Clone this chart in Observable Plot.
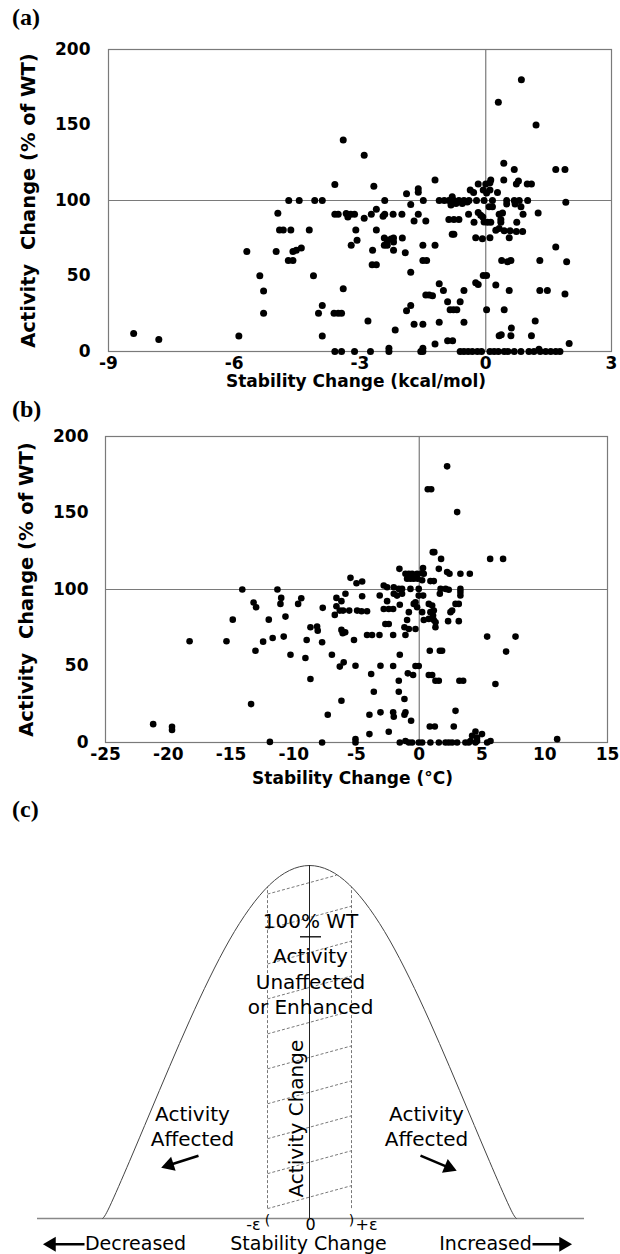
<!DOCTYPE html>
<html><head><meta charset="utf-8">
<script src="https://cdn.jsdelivr.net/npm/d3@7"></script>
<script src="https://cdn.jsdelivr.net/npm/@observablehq/plot@0.6"></script>
<style>
body{margin:0;background:#fff;}
#page{position:relative;width:620px;height:1254px;overflow:hidden;background:#fff;}
.panel{position:absolute;left:0;}
.plabel{position:absolute;left:12px;font-family:"Liberation Serif","Times New Roman",serif;font-weight:bold;font-size:24px;line-height:1;color:#000;}
</style></head><body>
<div id="page">
  <div id="pa" class="panel" style="top:0px"></div>
  <div id="pb" class="panel" style="top:395px"></div>
  <div id="pc" class="panel" style="top:795px"></div>
  <div class="plabel" style="top:5px">(a)</div>
  <div class="plabel" style="top:397px">(b)</div>
  <div class="plabel" style="top:797px">(c)</div>
</div>
<script>
// ---------- Panel (a): stability change (kcal/mol) vs activity change ----------
const aStab = [
 -3.4,-2.9,0.85,0.3,1.2,-8.4,-7.8,
 -3.6,-2.67,-4.7,-4.45,-4.08,-3.9,-2.41,-1.89,-1.61,-1.61,-1.49,-1.79,-4.96,-3.6,-3.52,-3.33,-3.29,-3.22,-3.13,-2.9,-2.73,-2.61,-2.45,-2.41,-2.21,-2.0,-1.61,-1.71,-1.43,
 -4.92,-4.83,-4.65,-4.21,-3.1,-2.61,-5.7,-5.0,-4.6,-4.52,-4.4,-4.71,-4.6,-3.07,-3.21,-2.42,-2.35,-2.26,-2.2,-2.2,-2.42,-2.35,-2.2,-1.99,-2.7,-1.92,-1.5,-1.5,-1.41,-2.71,-2.61,-1.79,-5.39,-4.11,-5.3,-3.4,-3.9,-3.99,-5.3,-3.62,-3.52,-3.44,-1.43,-1.35,-1.79,-1.89,-2.81,-1.71,-1.5,-2.16,-5.89,-3.9,-3.6,-3.44,-3.13,-2.75,-2.31,-2.31,-1.55,-1.5,-1.5,
 0.43,0.68,1.67,1.89,-1.21,0.12,0.43,0.78,0.73,-0.18,0,0.1,0.99,1.09,-0.37,-0.29,-0.06,0.02,0.1,0.28,
 -1.11,-0.99,-0.88,-0.8,-0.76,-0.64,-0.52,-0.4,-0.22,-0.04,0.16,0.5,0.68,0.8,1.0,
 1.91,-0.83,-0.71,-0.56,-0.44,0.08,0.16,0.5,0.7,0.84,1.25,-0.41,-0.18,-0.12,-0.07,0.32,0.4,0.89,-0.88,-0.76,-0.64,-0.28,-0.04,0.04,0.12,0.36,0.36,0.74,0.24,0.32,0.44,0.58,0.73,0.88,-0.8,-0.76,-0.24,-0.08,0.1,0.56,-1.21,1.67,0.38,0.52,0.6,1.29,1.93,-0.06,0.02,-0.24,-0.18,-1.11,0.24,-1.27,-1.01,-0.52,0.56,1.29,1.47,1.89,-0.91,-0.61,-0.85,-0.77,-0.69,0.02,0.44,-1.11,-0.52,1.18,0.61,0.32,0.37,0.6,1.09,-0.91,-0.79,-1.21,1.99,
 -0.61,-0.52,-0.42,-0.32,-0.2,-0.1,0.1,0.2,0.3,0.44,0.53,0.68,0.84,1.03,1.15,1.27,1.3,1.43,1.55,1.67,1.77
];
const aAct = [
 140,130,180,165,150,12,8,
 110.6,109.5,100,100,100,100,100,104.4,107.8,105.5,100,97.3,91.6,90.9,90.9,91.4,89.1,90.9,90.9,88.2,90.9,94.2,89.6,90.9,90.9,90.9,90.9,86.5,86.5,
 80.5,80.5,80.5,80.5,80.5,80.5,66.3,66.3,66.3,67,68.5,60.3,60.3,73.6,70.3,75.2,73.6,74.5,75.2,72.5,70.3,70.3,67,75.2,67,65.4,70.3,60.3,60.3,57.4,57.4,52.5,50.1,50.1,40.1,41.5,30.4,25.3,25.3,25.3,25.3,25.3,37.5,37.5,30.4,27,20.2,18,18,14.2,10.2,10.2,0,0,0,0,0,2.2,0,2.2,0,
 124.6,120.6,120.6,120.6,113.5,113.5,113.5,112.9,110.9,110.9,110.9,111.8,110.9,110.9,106.9,105.3,107,105,107,105.3,
 100,100,100,102.5,100,100,100,100,100,100,100,100,100,100,100,
 98.9,97,98,98,99,95.8,95.8,97.6,97.6,95.8,91.8,90.9,92,90.2,89.1,90.9,91.8,90.9,87.4,87.4,87.4,85.6,85.8,85.6,85.6,87.4,85.6,85.6,80.3,81.4,80,80,79.5,79.5,77.6,77.6,75.4,74.7,75.4,75.4,70.3,69.2,60.3,59.4,60.3,60.3,59.4,50.3,50.3,45.5,44.3,44.8,44.1,37,40.4,40.4,40.4,40.4,40.4,38.1,33,33,27.7,27.7,27.7,27.7,27.7,19.3,19.3,20.2,15.5,10.4,11.1,10.4,10.4,7.1,7.1,4.9,5.3,
 0,0,0,0,0,0,0,0,0,0,0,0,0,0,0,1.5,0,0,0,0,0
];
const aXTicks = [-9, -6, -3, 0, 3];
const actTicks = [0, 50, 100, 150, 200];

// ---------- Panel (b): stability change (°C) vs activity change ----------
const bStab = [
 -21.2,-19.7,-19.7,-18.3,
 2.22,0.68,0.95,3.02,1.08,1.2,1.74,5.65,6.68,0.3,
 -14.1,-11.3,-13.2,-13.0,-11.0,-11.06,-9.4,-9.65,-14.86,-11.99,-10.66,-15.36,-13.05,-12.44,-11.68,-10.8,-10.26,-13.4,-11.9,-8.67,-8.14,-8.09,-8.97,-9.07,-7.74,-7.69,-8.67,-6.96,-6.73,-6.6,-6.6,-6.2,-5.88,-5.48,-5.0,-4.55,-6.33,-6.07,-6.33,-6.02,-7.29,-7.74,-6.2,-6.2,-6.1,-5.9,-5.2,-5.08,-5.58,-4.95,-4.6,-4.16,-4.55,-5.08,-5.08,-4.16,-3.76,-3.17,-3.15,-3.09,-3.83,-3.62,-3.97,-3.09,-3.97,
 -1.58,-1.1,-0.83,-0.57,-0.17,0.23,-0.97,-0.7,-0.44,-0.12,0.23,0.89,1.16,0.36,1.56,2.22,2.41,3.28,4.03,-2.83,-2.56,-2.03,-1.63,-1.37,-0.7,-0.04,1.7,2.1,2.35,3.28,
 -2.56,-2.03,-1.77,-1.37,-0.3,-0.44,-0.17,-0.04,0.31,0.76,1.03,1.16,0.89,1.1,1.64,2.89,3.15,3.28,3.28,-2.83,-2.43,-2.08,-1.55,-0.83,0.23,2.49,2.62,-2.7,-2.43,-0.97,0.36,0.76,1.16,1.3,2.3,3.15,-1.18,-0.83,-0.3,1.29,-2.08,-1.1,5.41,7.67,0.84,1.64,1.82,6.92,-1.55,-2.08,-0.3,-0.04,-0.91,-0.49,0.76,1.03,1.29,1.56,3.2,3.5,6.07,-1.63,-1.63,-1.18,-2.08,-2.03,-1.18,-1.1,-0.65,2.89,0.84,1.24,2.75,-2.43,4.48,5.0,4.21,4.61,10.99,
 -1.55,-1.1,-0.83,-0.57,-0.04,0.23,0.89,1.56,2.09,2.35,2.62,3.02,3.68,3.95,4.08,4.48,4.61,5.41,5.68
];
const bAct = [
 12,10.3,8.2,66.2,
 180.5,165.5,165.5,150.6,124.4,124.4,120,120,120,114,
 100,100,91.5,88.4,94.5,90.6,94.3,90.6,80.3,80.3,82.3,66.2,60,65.9,68.3,69.2,57.4,25.1,0.4,75.3,75.8,73.1,67,55.2,65.5,88,41.5,57.4,83.4,94.5,89.1,92.4,97.2,107.6,104.1,105.2,86.2,86.2,49.6,52.4,18.1,0,27.3,73.6,71.4,72.1,67,50.2,86.2,86.2,85.8,85.8,95.6,2.2,0,70.3,70.3,70.3,96.1,50.2,44.8,33.2,18.1,19.7,5.5,
 113.5,110.3,110.3,110.3,110.3,110.7,107,107,107,107,106,105.5,105.5,110.3,113.5,111.4,110.3,110.3,110.3,102.6,101.5,101.5,100.4,100.4,100.4,100.4,100.4,100.4,99.8,100.4,
 92.4,97.2,96,97.2,91.7,90.6,88.4,96,96,90.6,89.5,86.2,85.2,83,97.2,90.6,90.6,98.3,96.1,87.3,87.3,87.3,90,85.2,85.2,85.2,86.2,77.5,77.5,80.1,80.1,80.8,80.1,78.6,79.3,79.3,75.3,74.2,74.2,75.3,70.3,70.3,69.2,69.2,60,60,60,59.4,57.4,50,50,50,45.2,44.1,44.1,44.1,40.4,40.4,40.4,40.4,38.2,40.4,33.2,28.4,19.7,16.8,18.1,19.7,14.2,20.7,10.5,10.5,10.5,7,7.2,5.5,4.4,3.3,2.2,
 0,1,0,0,0,0,0,0,0,0,0,0,0,0,1,0,1,0,1
];
const bXTicks = [-25, -20, -15, -10, -5, 0, 5, 10, 15];

// ---------- Panel (c): schematic curve ----------
const curveStab = [-207,-200,-180,-160,-140,-120,-100,-80,-60,-40,-20,0,20,40,60,80,100,120,140,160,180,200,207];
const curveAct  = [0,3.3,16.2,29.6,43,56,68.1,78.9,87.8,94.5,98.6,100,98.6,94.5,87.8,78.9,68.1,56,43,29.6,16.2,3.3,0];
const epsilon = 42;
const hatchStarts = [2.8, 12.7, 22.6, 32.5, 42.4, 52.3, 62.2, 72.1, 82.0, 91.9];
const hatchRise = 6.5;

const FONT = "'DejaVu Sans', 'Liberation Sans', Arial, sans-serif";
const GRAY = "#7a7a7a";
const fmt = d => String(d);

function scatter(stab, act, o) {
  const data = stab.map((s, i) => ({s, a: act[i]}));
  return Plot.plot({
    width: 620, height: o.height,
    marginLeft: o.ml, marginRight: o.mr, marginTop: o.mt, marginBottom: o.mb,
    style: {fontFamily: FONT, fontSize: "17px", fontWeight: "bold", color: "#000", background: "transparent", overflow: "visible"},
    x: {domain: o.xdomain, ticks: o.xticks, tickFormat: fmt, tickSize: 0, tickPadding: 5, label: null},
    y: {domain: [0, 200], ticks: actTicks, tickFormat: fmt, tickSize: 0, tickPadding: o.ypad, label: null},
    marks: [
      Plot.frame({stroke: GRAY, strokeWidth: 1.2}),
      Plot.ruleX([0], {stroke: GRAY, strokeWidth: 1.2}),
      Plot.ruleY([100], {stroke: GRAY, strokeWidth: 1.2}),
      Plot.dot(data, {x: "s", y: "a", r: o.r, fill: "#000", stroke: "none"}),
      Plot.text([o.xlabel], {frameAnchor: "bottom", textAnchor: "middle", lineAnchor: "middle", dy: o.xldy, dx: -4, fontSize: 17, fontWeight: "bold"}),
      Plot.text(["Activity  Change (% of WT)"], {frameAnchor: "left", textAnchor: "middle", lineAnchor: "middle", dx: o.yldx, rotate: -90, fontSize: 19.5, fontWeight: "bold"})
    ]
  });
}

document.getElementById("pa").append(scatter(aStab, aAct, {
  height: 395, ml: 108, mr: 9, mt: 49, mb: 44, xdomain: [-9, 3], xticks: aXTicks, ypad: 18, r: 3.5,
  xlabel: "Stability Change (kcal/mol)", xldy: 30, yldx: -80
}));
document.getElementById("pb").append(scatter(bStab, bAct, {
  height: 400, ml: 105, mr: 13, mt: 41, mb: 53, xdomain: [-25, 15], xticks: bXTicks, ypad: 17, r: 3.3,
  xlabel: "Stability Change (°C)", xldy: 36, yldx: -79
}));

// ---- schematic ----
const curve = curveStab.map((s, i) => ({s, a: curveAct[i]}));
function curveAt(x) {
  for (let i = 0; i < curveStab.length - 1; i++) {
    const x0 = curveStab[i], x1 = curveStab[i + 1];
    if (x >= x0 && x <= x1) return curveAct[i] + (curveAct[i + 1] - curveAct[i]) * (x - x0) / (x1 - x0);
  }
  return 0;
}
const bandTop = curveAt(epsilon);
const hatches = hatchStarts.map(h => {
  let x2 = epsilon, y2 = h + hatchRise;
  const g = x => h + hatchRise * (x + epsilon) / (2 * epsilon);
  if (y2 > curveAt(epsilon)) {
    for (let x = -epsilon; x <= epsilon; x += 0.5) { if (g(x) >= curveAt(x)) { x2 = x; y2 = g(x); break; } }
  }
  return {x1: -epsilon, y1: h, x2, y2};
});

const L = { // annotation layout of the schematic
  wt: {s: 1, a: 84}, under: {s1: -9, s2: 12, a: 79.8},
  mid: [["Activity", 74.2], ["Unaffected", 66.9], ["or Enhanced", 59.8]],
  vert: {s: -13, a: 28.3},
  sideS: 117, side: [["Activity", 29.5], ["Affected", 22.4]],
  bottomA: -7.3, epsA: -1.8
};
const arrows = [
  {x1: -111, y1: 17.8, x2: -144, y2: 14.8},
  {x1: 111, y1: 17.8, x2: 143, y2: 14.0},
  {x1: -225, y1: L.bottomA, x2: -262, y2: L.bottomA},
  {x1: 223, y1: L.bottomA, x2: 258, y2: L.bottomA}
];
// screen direction of each arrow (x: 1 px/unit, y: 3.53 px/unit) for its triangular head
const pxY = 353 / 100;
const heads = arrows.map(d => {
  const dx = d.x2 - d.x1, dy = -(d.y2 - d.y1) * pxY;
  const len = Math.hypot(dx, dy);
  const back = 4;
  return {s: d.x2 - dx / len * back, a: d.y2 + (dy / len * back) / pxY, rot: Math.atan2(dx, -dy) * 180 / Math.PI};
});
const dashed = {stroke: "#555", strokeWidth: 0.8, strokeDasharray: "3,2"};
const tx = (arr, opts) => Plot.text(arr, {x: "s", y: "a", text: "t", ...opts});

const pc = Plot.plot({
  width: 620, height: 459,
  marginLeft: 37, marginRight: 36, marginTop: 70, marginBottom: 36,
  style: {fontFamily: FONT, fontSize: "20px", color: "#000", background: "transparent", overflow: "visible"},
  x: {domain: [-272, 275], axis: null},
  y: {domain: [0, 100], axis: null},
  marks: [
    Plot.ruleY([0], {stroke: "#888", strokeWidth: 1.6}),
    Plot.ruleX([-epsilon, epsilon], {y1: hatchStarts[0], y2: bandTop, ...dashed}),
    Plot.link(hatches, {x1: "x1", y1: "y1", x2: "x2", y2: "y2", ...dashed}),
    Plot.line(curve, {x: "s", y: "a", curve: "natural", stroke: "#444", strokeWidth: 1}),
    Plot.ruleX([0], {y1: 0, y2: 100, stroke: "#222", strokeWidth: 1}),
    tx([{s: L.wt.s, a: L.wt.a, t: "100% WT"}], {}),
    Plot.ruleY([L.under.a], {x1: L.under.s1, x2: L.under.s2, stroke: "#000", strokeWidth: 1.3}),
    tx(L.mid.map(([t, a]) => ({s: 1, a, t})), {}),
    tx([{s: L.vert.s, a: L.vert.a, t: "Activity Change"}], {rotate: -90}),
    tx(L.side.map(([t, a]) => ({s: -L.sideS, a, t})), {}),
    tx(L.side.map(([t, a]) => ({s: L.sideS, a, t})), {}),
    Plot.link(arrows, {x1: "x1", y1: "y1", x2: "x2", y2: "y2", stroke: "#000", strokeWidth: 2.6}),
    Plot.dot(heads, {x: "s", y: "a", symbol: "triangle", r: 5.5, rotate: "rot", fill: "#000", stroke: "none"}),
    tx([{s: -56, a: L.epsA, t: "-ε"}, {s: 1, a: L.epsA, t: "0"}, {s: 57, a: L.epsA, t: "+ε"}], {fontSize: 16}),
    tx([{s: -42, a: -0.6, t: "("}, {s: 42, a: -0.6, t: ")"}], {fontSize: 14}),
    tx([{s: -174, a: L.bottomA, t: "Decreased"}, {s: -1, a: L.bottomA, t: "Stability Change"}, {s: 176, a: L.bottomA, t: "Increased"}], {fontSize: 19})
  ]
});
document.getElementById("pc").append(pc);
</script>
</body></html>
